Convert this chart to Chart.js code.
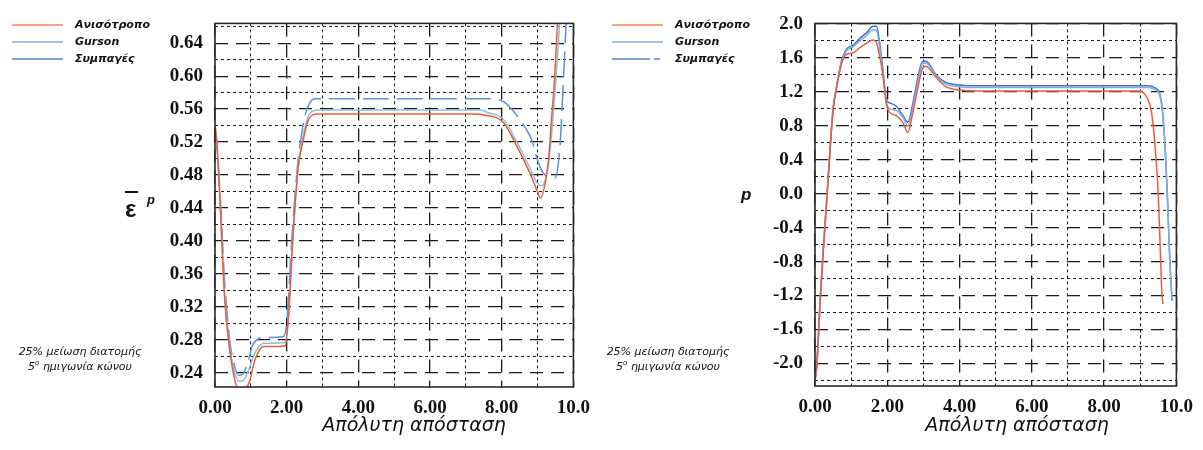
<!DOCTYPE html>
<html lang="el">
<head>
<meta charset="UTF-8">
<title>Ισοδύναμη πλαστική παραμόρφωση και πίεση</title>
<script src="https://cdn.jsdelivr.net/npm/chart.js"></script>
<style>
  body { margin: 0; background: #fff; width: 1203px; height: 450px; position: relative; overflow: hidden; color: #111; font-family: "DejaVu Sans", sans-serif; }
  .panel { position: absolute; top: 0; height: 450px; }
  .sw { position: absolute; }
  .lt { position: absolute; white-space: nowrap; font: italic bold 11px/14px "DejaVu Sans", sans-serif; }
  .note { position: absolute; width: 150px; text-align: center; font: italic 11px/15px "DejaVu Sans", sans-serif; }
  .note sup { font-size: 7px; line-height: 0; }
  .xt { position: absolute; width: 300px; text-align: center; font: italic 19px/20px "DejaVu Sans", sans-serif; }
  .yl { position: absolute; white-space: nowrap; font-weight: bold; }
</style>
</head>
<body>
  <div class="panel" style="left:0;width:600px"><canvas id="epChart"></canvas></div>
  <div class="panel" style="left:600px;width:603px"><canvas id="pChart"></canvas></div>

  <!-- legends -->
  <svg class="sw" style="left:12px;top:23px" width="51" height="4"><line x1="0" y1="2" x2="51" y2="2" stroke="#f5845a" stroke-width="1.5"/></svg>
  <svg class="sw" style="left:12px;top:40px" width="51" height="4"><line x1="0" y1="2" x2="51" y2="2" stroke="#7fb0e0" stroke-width="1.5"/></svg>
  <svg class="sw" style="left:12px;top:57px" width="51" height="4"><line x1="0" y1="2" x2="51" y2="2" stroke="#4f7fd8" stroke-width="1.5"/></svg>
  <div class="lt" style="left:75px;top:18px">Ανισότροπο</div>
  <div class="lt" style="left:75px;top:35px">Gurson</div>
  <div class="lt" style="left:75px;top:52px">Συμπαγές</div>

  <svg class="sw" style="left:612px;top:23px" width="51" height="4"><line x1="0" y1="2" x2="51" y2="2" stroke="#f5845a" stroke-width="1.5"/></svg>
  <svg class="sw" style="left:612px;top:40px" width="51" height="4"><line x1="0" y1="2" x2="51" y2="2" stroke="#7fb0e0" stroke-width="1.5"/></svg>
  <svg class="sw" style="left:612px;top:57px" width="51" height="4"><line x1="0" y1="2" x2="51" y2="2" stroke="#4f7fd8" stroke-width="1.5" stroke-dasharray="38 4 6 4"/></svg>
  <div class="lt" style="left:675px;top:18px">Ανισότροπο</div>
  <div class="lt" style="left:675px;top:35px">Gurson</div>
  <div class="lt" style="left:675px;top:52px">Συμπαγές</div>

  <!-- notes -->
  <div class="note" style="left:5px;top:344px">25% μείωση διατομής<br>5<sup>ο</sup> ημιγωνία κώνου</div>
  <div class="note" style="left:593px;top:344px">25% μείωση διατομής<br>5<sup>ο</sup> ημιγωνία κώνου</div>

  <!-- axis titles -->
  <div class="xt" style="left:264px;top:414px">Απόλυτη απόσταση</div>
  <div class="xt" style="left:867px;top:414px">Απόλυτη απόσταση</div>

  <svg class="sw" style="left:124px;top:190px" width="16" height="4"><line x1="1" y1="2" x2="14" y2="2" stroke="#111" stroke-width="2"/></svg>
  <div class="yl" style="left:125px;top:197px;font:bold 24px/24px 'Liberation Sans',sans-serif">ε</div>
  <div class="yl" style="left:147px;top:193px;font:italic bold 13px/13px 'Liberation Sans',sans-serif">p</div>
  <div class="yl" style="left:741px;top:186px;font:italic bold 17px/17px 'Liberation Sans',sans-serif">p</div>

<script>
// ---- tick values / labels ----
const xGridValues = [0, 1, 2, 3, 4, 5, 6, 7, 8, 9, 10];
const xLabelValues = [0, 2, 4, 6, 8, 10];
const xLabelTexts = ['0.00', '2.00', '4.00', '6.00', '8.00', '10.0'];

const epLabelValues = [0.24, 0.28, 0.32, 0.36, 0.40, 0.44, 0.48, 0.52, 0.56, 0.60, 0.64];
const epLabelTexts = ['0.24', '0.28', '0.32', '0.36', '0.40', '0.44', '0.48', '0.52', '0.56', '0.60', '0.64'];
const epMinorValues = [0.26, 0.30, 0.34, 0.38, 0.42, 0.46, 0.50, 0.54, 0.58, 0.62, 0.66];

const pLabelValues = [-2.0, -1.6, -1.2, -0.8, -0.4, 0.0, 0.4, 0.8, 1.2, 1.6, 2.0];
const pLabelTexts = ['-2.0', '-1.6', '-1.2', '-0.8', '-0.4', '0.0', '0.4', '0.8', '1.2', '1.6', '2.0'];
const pMinorValues = [-2.2, -1.8, -1.4, -1.0, -0.6, -0.2, 0.2, 0.6, 1.0, 1.4, 1.8];

// ---- left chart: equivalent plastic strain ----
const epAnisoX = [0, 0.05, 0.14, 0.27, 0.41, 0.55, 0.68, 0.82, 0.95, 1.09, 1.23, 1.36, 1.65, 1.96, 2.05, 2.18, 2.32, 2.45, 2.59, 2.73, 2.9, 7.2, 7.5, 8.04, 8.4, 8.77, 9.0, 9.08, 9.22, 9.31, 9.4, 9.47, 9.56];
const epAnisoY = [0.540, 0.520, 0.448, 0.330, 0.268, 0.232, 0.218, 0.220, 0.228, 0.252, 0.267, 0.272, 0.272, 0.273, 0.308, 0.408, 0.488, 0.520, 0.545, 0.553, 0.554, 0.554, 0.553, 0.544, 0.517, 0.484, 0.460, 0.452, 0.472, 0.500, 0.553, 0.593, 0.668];

const epGursonX = [0, 0.05, 0.14, 0.27, 0.41, 0.55, 0.68, 0.82, 0.95, 1.09, 1.23, 1.36, 1.96, 2.05, 2.18, 2.32, 2.45, 2.59, 2.75, 2.9, 7.4, 7.6, 8.04, 8.4, 8.77, 9.0, 9.13, 9.25, 9.35, 9.45, 9.55, 9.62];
const epGursonY = [0.540, 0.520, 0.450, 0.335, 0.272, 0.240, 0.230, 0.232, 0.245, 0.262, 0.272, 0.276, 0.277, 0.310, 0.410, 0.490, 0.525, 0.550, 0.558, 0.559, 0.559, 0.556, 0.548, 0.522, 0.490, 0.470, 0.467, 0.480, 0.510, 0.560, 0.620, 0.668];

const epSolidX = [0, 0.05, 0.14, 0.27, 0.41, 0.55, 0.68, 0.8, 0.95, 1.04, 1.14, 1.3, 1.9, 2.0, 2.14, 2.3, 2.5, 2.65, 2.8, 7.68, 8.05, 8.41, 8.77, 8.86, 8.95, 9.1, 9.21, 9.32, 9.48, 9.62, 9.72, 9.8];
const epSolidY = [0.540, 0.520, 0.460, 0.350, 0.280, 0.248, 0.237, 0.240, 0.258, 0.273, 0.279, 0.283, 0.284, 0.300, 0.400, 0.490, 0.550, 0.568, 0.5725, 0.5725, 0.569, 0.553, 0.529, 0.520, 0.505, 0.487, 0.480, 0.476, 0.476, 0.512, 0.593, 0.668];

// ---- right chart: pressure ----
const pAnisoX = [0, 0.05, 0.14, 0.23, 0.32, 0.41, 0.5, 0.6, 0.73, 0.87, 1.06, 1.24, 1.42, 1.61, 1.7, 1.79, 1.88, 1.97, 2.06, 2.25, 2.43, 2.57, 2.71, 2.84, 2.98, 3.07, 3.35, 3.62, 3.99, 4.5, 8.94, 9.13, 9.31, 9.4, 9.5, 9.54, 9.6, 9.63];
const pAnisoY = [-2.2, -2.0, -1.3, -0.68, -0.12, 0.46, 0.98, 1.25, 1.52, 1.64, 1.66, 1.72, 1.77, 1.81, 1.78, 1.62, 1.39, 1.07, 0.96, 0.92, 0.84, 0.72, 0.96, 1.23, 1.48, 1.50, 1.37, 1.26, 1.22, 1.21, 1.21, 1.17, 0.96, 0.61, -0.02, -0.48, -1.18, -1.3];

const pGursonX = [0, 0.05, 0.14, 0.23, 0.32, 0.41, 0.5, 0.6, 0.73, 0.87, 1.06, 1.24, 1.42, 1.61, 1.7, 1.79, 1.88, 1.97, 2.06, 2.25, 2.43, 2.57, 2.71, 2.84, 2.98, 3.07, 3.35, 3.62, 3.99, 4.5, 9.2, 9.4, 9.59, 9.68, 9.75, 9.82, 9.88];
const pGursonY = [-2.2, -2.02, -1.28, -0.66, -0.10, 0.48, 0.99, 1.26, 1.54, 1.68, 1.73, 1.80, 1.86, 1.93, 1.92, 1.72, 1.43, 1.09, 1.00, 0.98, 0.90, 0.80, 1.02, 1.30, 1.53, 1.54, 1.39, 1.29, 1.26, 1.25, 1.25, 1.23, 1.05, 0.60, -0.03, -0.80, -1.24];

const pSolidX = [0, 0.05, 0.14, 0.23, 0.32, 0.41, 0.5, 0.6, 0.73, 0.87, 1.06, 1.24, 1.42, 1.61, 1.7, 1.79, 1.88, 1.97, 2.06, 2.25, 2.43, 2.57, 2.71, 2.84, 2.98, 3.07, 3.35, 3.62, 3.99, 4.5, 9.2, 9.4, 9.59, 9.68, 9.75, 9.82, 9.88];
const pSolidY = [-2.2, -2.04, -1.26, -0.64, -0.09, 0.49, 1.00, 1.27, 1.56, 1.70, 1.75, 1.83, 1.89, 1.97, 1.97, 1.77, 1.46, 1.11, 1.07, 1.03, 0.92, 0.84, 1.07, 1.35, 1.56, 1.56, 1.40, 1.31, 1.28, 1.27, 1.27, 1.25, 1.07, 0.61, -0.02, -0.79, -1.26];

const zip = (xs, ys) => xs.map((x, i) => ({ x: x, y: ys[i] }));

function tickList(labelled, minor) {
  return labelled.map(v => ({ value: v, minor: false }))
    .concat(minor.map(v => ({ value: v, minor: true })))
    .sort((a, b) => a.value - b.value);
}
function labelFor(values, texts) {
  return v => {
    const i = values.findIndex(t => Math.abs(t - v) < 1e-6);
    return i < 0 ? '' : texts[i];
  };
}

const framePlugin = {
  id: 'frame',
  afterDatasetsDraw(chart) {
    const { ctx, chartArea: a } = chart;
    ctx.save();
    ctx.strokeStyle = '#2a2a2a';
    ctx.lineWidth = 1.6;
    ctx.strokeRect(a.left, a.top, a.right - a.left, a.bottom - a.top);
    ctx.restore();
  }
};

const tickFont = { family: "'Liberation Serif', serif", size: 19, weight: 'bold' };

function gridStyle() {
  return {
    grid: {
      drawTicks: false,
      color: '#1a1a1a',
      lineWidth: c => (c.tick && c.tick.minor ? 1 : 1.3)
    },
    border: {
      display: false,
      dash: c => (c.tick ? (c.tick.minor ? [3, 3] : [13, 8]) : [])
    }
  };
}

function makeChart(id, yMin, yMax, yTicks, yLabel, sets, padRight, padTop, xHeight) {
  const xs = gridStyle();
  const ys = gridStyle();
  return new Chart(document.getElementById(id), {
    type: 'line',
    data: {
      datasets: sets.map(s => ({
        label: s.label,
        data: s.data,
        borderColor: s.color,
        borderWidth: 1.5,
        borderDash: s.dash || [],
        pointRadius: 0,
        cubicInterpolationMode: 'monotone',
        fill: false
      }))
    },
    options: {
      responsive: true,
      maintainAspectRatio: false,
      animation: false,
      layout: { padding: { left: 0, right: padRight, top: padTop, bottom: 0 } },
      plugins: { legend: { display: false }, tooltip: { enabled: false } },
      scales: {
        x: {
          type: 'linear',
          min: 0,
          max: 10,
          afterBuildTicks: s => { s.ticks = xGridValues.map(v => ({ value: v, minor: !xLabelValues.includes(v) })); },
          afterFit: s => { s.height = xHeight; },
          ticks: { autoSkip: false, maxRotation: 0, padding: 10, color: '#111', font: tickFont,
                   callback: labelFor(xLabelValues, xLabelTexts) },
          grid: xs.grid,
          border: xs.border
        },
        y: {
          type: 'linear',
          min: yMin,
          max: yMax,
          afterBuildTicks: s => { s.ticks = yTicks; },
          afterFit: s => { s.width = 215; },
          ticks: { autoSkip: false, padding: 12, color: '#111', font: tickFont, callback: yLabel },
          grid: ys.grid,
          border: ys.border
        }
      }
    },
    plugins: [framePlugin]
  });
}

makeChart('epChart', 0.223, 0.664, tickList(epLabelValues, epMinorValues), labelFor(epLabelValues, epLabelTexts), [
  { label: 'Ανισότροπο', data: zip(epAnisoX, epAnisoY), color: '#ee5a3e' },
  { label: 'Gurson', data: zip(epGursonX, epGursonY), color: '#86c3d6' },
  { label: 'Συμπαγές', data: zip(epSolidX, epSolidY), color: '#5a90e0', dash: [26, 8] }
], 18, 21, 63);

makeChart('pChart', -2.265, 2.005, tickList(pLabelValues, pMinorValues), labelFor(pLabelValues, pLabelTexts), [
  { label: 'Ανισότροπο', data: zip(pAnisoX, pAnisoY), color: '#ee5a3e' },
  { label: 'Gurson', data: zip(pGursonX, pGursonY), color: '#7fb0e0' },
  { label: 'Συμπαγές', data: zip(pSolidX, pSolidY), color: '#3f72d4' }
], 22, 20, 64);
</script>
</body>
</html>
